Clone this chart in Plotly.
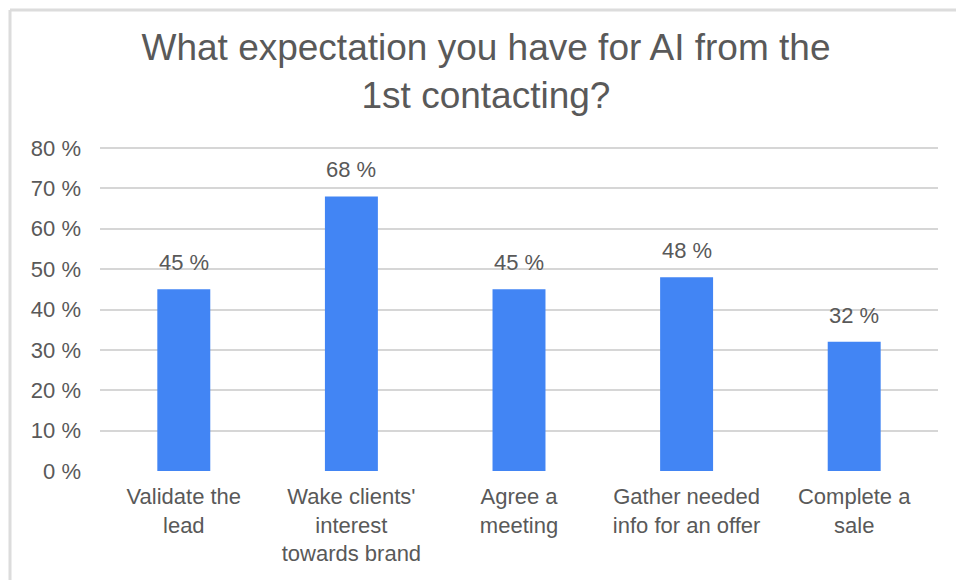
import plotly.graph_objects as go

# Survey answers: share of respondents per expectation
categories = [
    "Validate the<br>lead",
    "Wake clients'<br>interest<br>towards brand",
    "Agree a<br>meeting",
    "Gather needed<br>info for an offer",
    "Complete a<br>sale",
]
shares = [45, 68, 45, 48, 32]
y_ticks = [0, 10, 20, 30, 40, 50, 60, 70, 80]
y_tick_labels = [f"{v} %" for v in y_ticks]

TEXT = "#595959"
BAR = "#4285F4"
GRID = "#d6d6d6"
FONT = "Liberation Sans, Arial, sans-serif"

W, H = 956, 580
L, R, T, B = 100, 18, 146, 109
PW, PH = W - L - R, H - T - B

fig = go.Figure()
fig.add_trace(go.Bar(
    x=categories,
    y=shares,
    marker=dict(color=BAR, line=dict(width=0)),
    hoverinfo="x+y",
))

# value labels above each bar
for c, v in zip(categories, shares):
    fig.add_annotation(
        x=c, y=v, text=f"{v} %", showarrow=False,
        yanchor="bottom", yshift=12,
        font=dict(family=FONT, size=22, color=TEXT),
    )

# frame along the top and left edges
top = (H - B - 10) / PH
left = (10 - L) / PW
fig.add_shape(type="line", xref="paper", yref="paper",
              x0=left, x1=(W - L) / PW, y0=top, y1=top,
              line=dict(color="#dcdcdc", width=3))
fig.add_shape(type="line", xref="paper", yref="paper",
              x0=left, x1=left, y0=top, y1=-B / PH,
              line=dict(color="#dcdcdc", width=3))

fig.update_layout(
    width=W, height=H,
    margin=dict(l=L, r=R, t=T, b=B),
    paper_bgcolor="white", plot_bgcolor="white",
    bargap=0.684,
    showlegend=False,
    title=dict(
        text="What expectation you have for AI from the<br>1st contacting?",
        x=486 / W, xanchor="center",
        y=1 - 60 / H, yanchor="middle",
        font=dict(family=FONT, size=37, color=TEXT),
    ),
    font=dict(family=FONT, color=TEXT),
)
fig.update_xaxes(
    showgrid=False, showline=False, zeroline=False, ticks="",
    ticklabelstandoff=10,
    tickfont=dict(family=FONT, size=22, color=TEXT),
)
fig.update_yaxes(
    range=[0, 80.5], tickvals=y_ticks, ticktext=y_tick_labels,
    showgrid=True, gridcolor=GRID, gridwidth=2,
    zeroline=False, showline=False, ticks="",
    ticklabelstandoff=18,
    tickfont=dict(family=FONT, size=22, color=TEXT),
)

fig.write_html("out.html")
